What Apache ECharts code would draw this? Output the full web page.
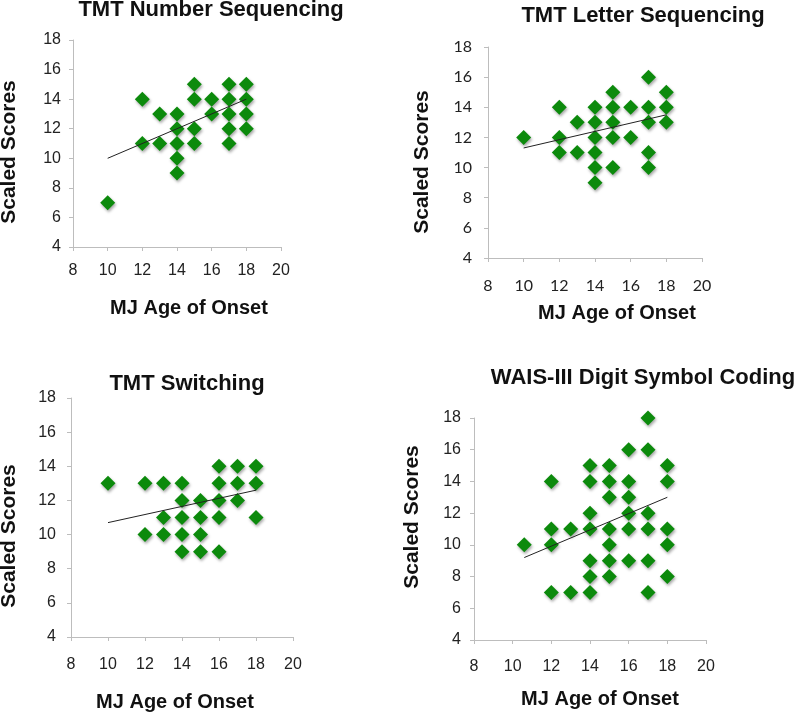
<!DOCTYPE html>
<html>
<head>
<meta charset="utf-8">
<script src="https://cdn.jsdelivr.net/npm/echarts@6/dist/echarts.min.js"></script>
<style>html,body{margin:0;padding:0;background:#fff;}#c{width:800px;height:714px;}</style>
</head>
<body>
<div id="c"></div>
<script>
// ---- data ----
var titles = ['TMT Number Sequencing', 'TMT Letter Sequencing', 'TMT Switching', 'WAIS-III Digit Symbol Coding'];
var xName = 'MJ Age of Onset';
var yName = 'Scaled Scores';

var numX = [10,12,12,13,13,14,14,14,14,14,15,15,15,15,16,16,17,17,17,17,17,18,18,18,18];
var numY = [7,14,11,13,11,13,12,11,10,9,15,14,12,11,14,13,15,14,13,12,11,15,14,13,12];
var numTrendX = [10,18];
var numTrendY = [10,14];

var letX = [10,12,12,12,13,13,14,14,14,14,14,14,15,15,15,15,15,16,16,17,17,17,17,17,18,18,18];
var letY = [12,14,12,11,13,11,14,13,12,11,10,9,15,14,13,12,10,14,12,16,14,13,11,10,15,14,13];
var letTrendX = [10,18];
var letTrendY = [11.3,13.5];

var swX = [10,12,12,13,13,13,14,14,14,14,14,15,15,15,15,16,16,16,16,16,17,17,17,18,18,18];
var swY = [13,13,10,13,11,10,13,12,11,10,9,12,11,10,9,14,13,12,11,9,14,13,12,14,13,11];
var swTrendX = [10,18];
var swTrendY = [10.7,12.6];

var dsX = [10.6,12,12,12,12,13,13,14,14,14,14,14,14,14,15,15,15,15,15,15,15,16,16,16,16,16,16,17,17,17,17,17,17,18,18,18,18,18];
var dsY = [10,14,11,10,7,11,7,15,14,12,11,9,8,7,15,14,13,11,10,9,8,16,14,13,12,11,9,18,16,12,11,9,7,15,14,11,10,8];
var dsTrendX = [10.6,18];
var dsTrendY = [9.2,13];

var xTicks = {min: 8, max: 20, interval: 2};
var yTicks = {min: 4, max: 18, interval: 2};

// ---- layout ----
var grids = [
  {left: 73, top: 40, width: 208, height: 207},
  {left: 488, top: 47, width: 214, height: 211},
  {left: 71, top: 398, width: 222, height: 239},
  {left: 474, top: 418, width: 232, height: 222}
];
var titleCenters = [[211, 10], [643, 16], [187, 384], [643, 378]];
var xNameCenters = [[189, 308], [617, 313], [175, 702], [600, 699]];
var yNameCenters = [[9, 152], [422, 162], [9, 536], [412, 517]];
var tickFonts = ['Liberation Sans', 'Lato', 'Liberation Sans', 'Liberation Sans'];
var xMargins = [16, 20, 20, 19];
var yMargins = [12, 16, 15, 13];

function pairs(xs, ys) { return xs.map(function (x, i) { return [x, ys[i]]; }); }
var sets = [
  [numX, numY, numTrendX, numTrendY],
  [letX, letY, letTrendX, letTrendY],
  [swX, swY, swTrendX, swTrendY],
  [dsX, dsY, dsTrendX, dsTrendY]
];

function label(text, c, font, rot) {
  return {
    type: 'text', x: c[0], y: c[1], rotation: rot || 0, z: 10,
    style: {text: text, font: font, fill: '#111',
      align: 'center', verticalAlign: 'middle', textAlign: 'center', textVerticalAlign: 'middle'}
  };
}

var axisColor = '#bdbdbd';
var option = {
  backgroundColor: '#fff',
  animation: false,
  grid: [], xAxis: [], yAxis: [], series: [], graphic: []
};
for (var i = 0; i < 4; i++) {
  option.graphic.push(label(titles[i], titleCenters[i], 'bold 22px "Liberation Sans"'));
  option.graphic.push(label(xName, xNameCenters[i], 'bold 20px "Liberation Sans"'));
  option.graphic.push(label(yName, yNameCenters[i], 'bold 21px "Liberation Sans"', Math.PI / 2));
  option.grid.push(grids[i]);
  option.xAxis.push({
    type: 'value', gridIndex: i, min: xTicks.min, max: xTicks.max, interval: xTicks.interval,
    axisLine: {lineStyle: {color: axisColor, width: 1}},
    axisTick: {show: true, inside: false, length: 4, lineStyle: {color: axisColor}},
    axisLabel: {fontFamily: tickFonts[i], fontSize: 16, color: '#222', margin: xMargins[i]},
    splitLine: {show: false}
  });
  option.yAxis.push({
    type: 'value', gridIndex: i, min: yTicks.min, max: yTicks.max, interval: yTicks.interval,
    axisLine: {show: true, lineStyle: {color: axisColor, width: 1}},
    axisTick: {show: true, inside: false, length: 4, lineStyle: {color: axisColor}},
    axisLabel: {fontFamily: tickFonts[i], fontSize: 16, color: '#222', margin: yMargins[i]},
    splitLine: {show: false}
  });
  var s = sets[i];
  option.series.push({
    type: 'scatter', xAxisIndex: i, yAxisIndex: i, data: pairs(s[0], s[1]),
    symbol: 'diamond', symbolSize: 15,
    itemStyle: {color: '#0c8a0c', opacity: 1, shadowBlur: 3, shadowColor: 'rgba(0,0,0,0.35)', shadowOffsetX: 1, shadowOffsetY: 2}
  });
  option.series.push({
    type: 'line', xAxisIndex: i, yAxisIndex: i, data: pairs(s[2], s[3]),
    showSymbol: false, symbol: 'none', z: 5,
    lineStyle: {color: '#222', width: 1}
  });
}
var chart = echarts.init(document.getElementById('c'), null, {renderer: 'canvas'});
chart.setOption(option);
</script>
</body>
</html>
